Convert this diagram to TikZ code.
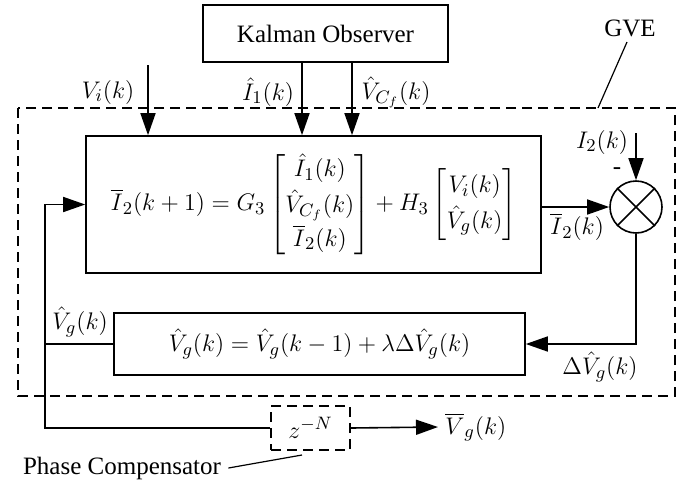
\documentclass[tikz,border=0pt]{standalone}
\usepackage{amsmath}
\usepackage[no-math]{fontspec}
\setmainfont{Liberation Serif}
\usetikzlibrary{arrows.meta,calc}

\begin{document}
\begin{tikzpicture}[x=0.5pt,y=-0.5pt,>={Triangle[length=11pt,width=7.5pt]},line width=0.8pt,
    font=\fontsize{12.5}{15}\selectfont,
    blockbox/.style={draw,line width=0.8pt,inner sep=0pt},
    dashbox/.style={draw,line width=0.8pt,dash pattern=on 5pt off 3pt}]
    \useasboundingbox (0,0) rectangle (690,483);

    % Blocks
    \node[blockbox,minimum width=122.5pt,minimum height=28.5pt] (kal) at (325.5,33.5) {Kalman Observer};
    \node[blockbox,minimum width=227.5pt,minimum height=68.5pt] (main) at (313.5,204.5)
        {$\overline{I}_2(k+1)=G_3\begin{bmatrix}\hat{I}_1(k)\\[2pt] \hat{V}_{C_f}(k)\\[2pt] \overline{I}_2(k)\end{bmatrix}+H_3\begin{bmatrix}V_i(k)\\[2pt] \hat{V}_g(k)\end{bmatrix}$};
    \node[blockbox,minimum width=205.5pt,minimum height=31pt] (upd) at (319.5,344)
        {$\hat{V}_g(k)=\hat{V}_g(k-1)+\lambda\Delta\hat{V}_g(k)$};
    \node[draw,circle,minimum size=26pt,inner sep=0pt] (sum) at (636,207) {};
    \draw (sum.north west)--(sum.south east) (sum.north east)--(sum.south west);
    \node[dashbox,minimum width=39.5pt,minimum height=22pt] (zdel) at (310.5,428) {$z^{-N}$};

    % GVE boundary
    \draw[dashbox] (18,108) rectangle (675,396);
    \node (gve) at (630,28) {GVE};
    \draw[line width=0.6pt] (627,42)--(598,108);

    % Inputs
    \coordinate (vi) at (148,65);
    \coordinate (ione) at (302,0);
    \coordinate (vcf) at (352,0);
    \coordinate (itwo) at (636,133);
    \draw[->] (vi)--(vi |- main.north);
    \draw[->] (kal.south -| ione)--(ione |- main.north);
    \draw[->] (kal.south -| vcf)--(vcf |- main.north);
    \draw[->] (itwo)--(sum.north);

    % Loop
    \coordinate (fb) at (45,344);
    \draw[->] (main.east |- sum.west)--(sum.west);
    \draw[->] (sum.south) |- (upd.east);
    \draw (upd.west)--(fb);
    \draw[->] (fb) |- (main.west);
    \draw (fb) |- (zdel.west);
    \node[anchor=west] (vgbar) at (438,427) {$\overline{V}_g(k)$};
    \draw[->] (zdel.east)--(vgbar.west);

    % Labels
    \foreach \pos/\lbl in {{108,92}/V_i(k),{268,92}/\hat{I}_1(k),{396,92}/\hat{V}_{C_f}(k),
        {602,142}/I_2(k),{577,227}/\overline{I}_2(k),{600,367}/\Delta\hat{V}_g(k),{80,322}/\hat{V}_g(k)}
        \node at (\pos) {$\lbl$};
    \node at (617,171) {-};

    % Phase compensator
    \node (phase) at (122,468) {Phase Compensator};
    \draw[line width=0.6pt] (phase.east)--(302,455);
\end{tikzpicture}
\end{document}
